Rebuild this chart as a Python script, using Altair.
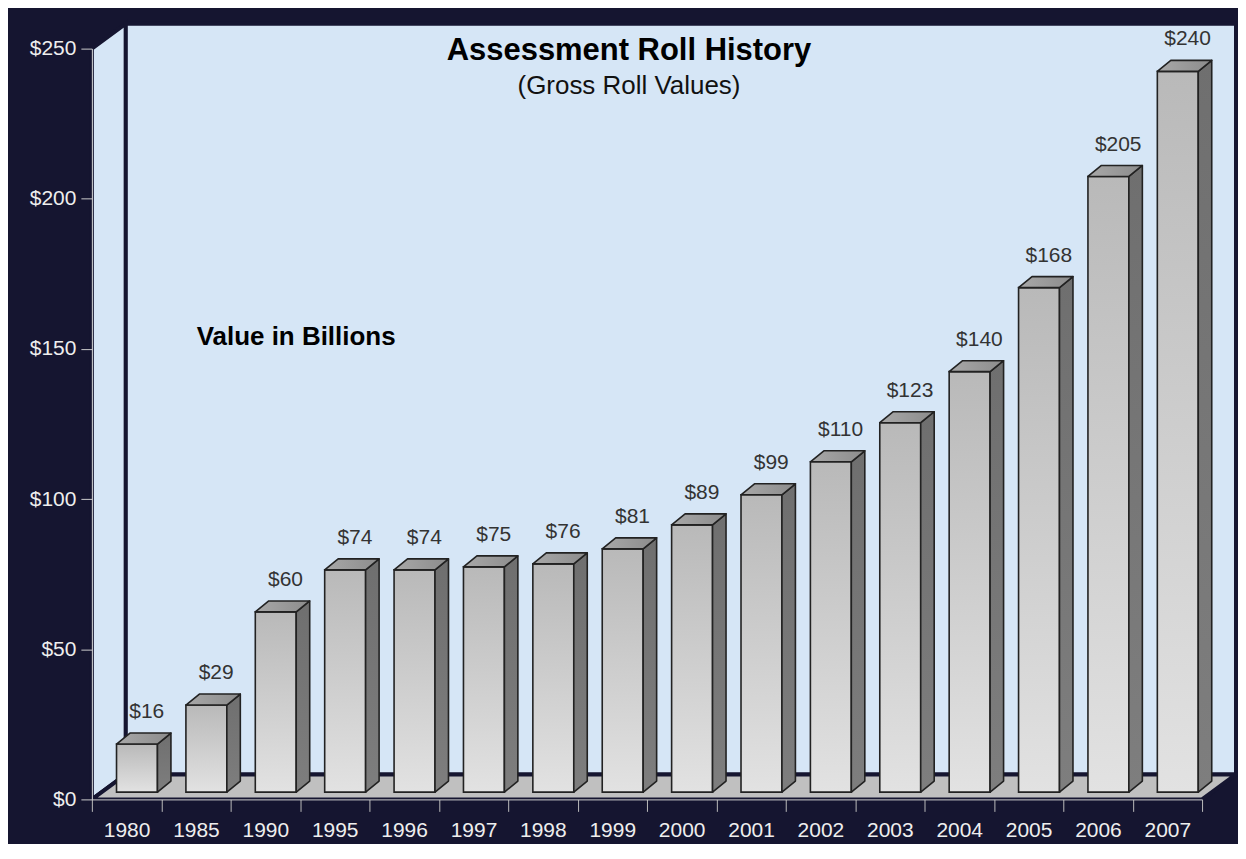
import json
import altair as alt
import pandas as pd

# ---------------- data ----------------
YEARS = ["1980", "1985", "1990", "1995", "1996", "1997", "1998", "1999",
         "2000", "2001", "2002", "2003", "2004", "2005", "2006", "2007"]
VALUES = [16, 29, 60, 74, 74, 75, 76, 81, 89, 99, 110, 123, 140, 168, 205, 240]
Y_TICKS = [0, 50, 100, 150, 200, 250]
TITLE = "Assessment Roll History"
SUBTITLE = "(Gross Roll Values)"
NOTE = "Value in Billions"

# ---------------- style ----------------
NAVY = "#151530"
WALL = "#d6e6f6"
FLOOR = "#c0c0c0"
EDGE = "#222222"
FONT = "Liberation Sans, Arial, Helvetica, sans-serif"

N = len(YEARS)
YMAX = Y_TICKS[-1]
W, H = 1112, 752
PXX = W / N
PXY = H / YMAX


def ux(p):
    return p / PXX


def uy(p):
    return p / PXY


WALL_DX, WALL_DY = ux(34), uy(25)
F_L, F_R = ux(24.7), ux(65.7)
B_DX, B_DY = ux(13.5), uy(11)
BASE = uy(7.3)
LBL_X = ux(55)

XS = alt.Scale(domain=[0, N], nice=False, zero=False)
YS = alt.Scale(domain=[0, YMAX], nice=False, zero=False)

XAX = alt.Axis(
    values=list(range(N + 1)),
    labelExpr=json.dumps(YEARS) + "[datum.value] || ''",
    labelOffset=PXX / 2, labelFont=FONT, labelFontSize=21, labelColor="#eeeeee",
    labelPadding=8, tickSize=12, tickColor="#bbbbbb", domainColor="#cccccc",
    grid=False, labelFlush=False, labelOverlap=False, zindex=1, title=None,
)
YAX = alt.Axis(
    values=Y_TICKS, labelExpr="'$' + datum.value",
    labelFont=FONT, labelFontSize=21, labelColor="#eeeeee", labelPadding=5,
    tickSize=11, tickColor="#cccccc", domainColor="#dddddd",
    grid=False, zindex=1, title=None,
)


def X(f):
    return alt.X(f, scale=XS, axis=XAX, title=None)


def Y(f):
    return alt.Y(f, scale=YS, axis=YAX, title=None)


# ---------------- tables ----------------
idx = list(range(N))
left_wall = pd.DataFrame({"g": ["w", "w"], "x": [0, WALL_DX],
                          "lo": [0, WALL_DY], "hi": [YMAX, YMAX + WALL_DY]})
back_wall = pd.DataFrame({"xa": [WALL_DX], "xb": [N + WALL_DX],
                          "ya": [WALL_DY], "yb": [YMAX + WALL_DY]})
floor = pd.DataFrame({"g": ["f", "f"], "y": [0, WALL_DY],
                      "xa": [0, WALL_DX], "xb": [N, N + WALL_DX]})

front = pd.DataFrame({
    "year": YEARS,
    "xl": [i + F_L for i in idx],
    "xr": [i + F_R for i in idx],
    "yb": [BASE] * N,
    "yt": [BASE + v for v in VALUES],
})

side_rows, top_rows = [], []
for i, (yr, v) in enumerate(zip(YEARS, VALUES)):
    side_rows.append({"year": yr, "x": i + F_R, "lo": BASE, "hi": BASE + v})
    side_rows.append({"year": yr, "x": i + F_R + B_DX, "lo": BASE + B_DY, "hi": BASE + v + B_DY})
    top_rows.append({"year": yr, "y": BASE + v, "xa": i + F_L, "xb": i + F_R})
    top_rows.append({"year": yr, "y": BASE + v + B_DY, "xa": i + F_L + B_DX, "xb": i + F_R + B_DX})
side = pd.DataFrame(side_rows)
top = pd.DataFrame(top_rows)

labels = pd.DataFrame({
    "x": [i + LBL_X for i in idx],
    "y": [BASE + v for v in VALUES],
    "t": ["$" + str(v) for v in VALUES],
})

# ---------------- gradients ----------------
front_grad = alt.LinearGradient(
    gradient="linear", x1=0, y1=0, x2=0, y2=1,
    stops=[alt.GradientStop(color="#b9b9b9", offset=0),
           alt.GradientStop(color="#e2e2e2", offset=1)])
side_grad = alt.LinearGradient(
    gradient="linear", x1=0, y1=0, x2=0, y2=1,
    stops=[alt.GradientStop(color="#6f6f6f", offset=0),
           alt.GradientStop(color="#7e7e7e", offset=1)])
top_grad = alt.LinearGradient(
    gradient="linear", x1=0, y1=0, x2=1, y2=0,
    stops=[alt.GradientStop(color="#a8a8a8", offset=0),
           alt.GradientStop(color="#8c8c8c", offset=1)])

# ---------------- layers ----------------
l_wall = alt.Chart(left_wall).mark_area(
    orient="vertical", fill=WALL, stroke=NAVY, strokeWidth=4
).encode(x=X("x:Q"), y=Y("lo:Q"), y2="hi:Q", detail="g:N")

b_wall = alt.Chart(back_wall).mark_rect(
    fill=WALL, stroke=NAVY, strokeWidth=4
).encode(x=X("xa:Q"), x2="xb:Q", y=Y("ya:Q"), y2="yb:Q")

fl = alt.Chart(floor).mark_area(
    orient="horizontal", fill=FLOOR, stroke=NAVY, strokeWidth=4
).encode(y=Y("y:Q"), x=X("xa:Q"), x2="xb:Q", detail="g:N")

fronts = alt.Chart(front).mark_rect(
    fill=front_grad, stroke=EDGE, strokeWidth=1.6
).encode(x=X("xl:Q"), x2="xr:Q", y=Y("yb:Q"), y2="yt:Q")

sides = alt.Chart(side).mark_area(
    orient="vertical", fill=side_grad, stroke=EDGE, strokeWidth=1.6, strokeJoin="round"
).encode(x=X("x:Q"), y=Y("lo:Q"), y2="hi:Q", detail="year:N")

tops = alt.Chart(top).mark_area(
    orient="horizontal", fill=top_grad, stroke=EDGE, strokeWidth=1.6, strokeJoin="round"
).encode(y=Y("y:Q"), x=X("xa:Q"), x2="xb:Q", detail="year:N")

vals = alt.Chart(labels).mark_text(
    font=FONT, fontSize=21, color="#333333", align="center", baseline="alphabetic", dy=-26
).encode(x=X("x:Q"), y=Y("y:Q"), text="t:N")

title = alt.Chart(pd.DataFrame({"t": [TITLE]})).mark_text(
    font=FONT, fontSize=31, fontWeight="bold", color="#000000", align="center", baseline="alphabetic"
).encode(x=alt.value(538), y=alt.value(11), text="t:N")

subtitle = alt.Chart(pd.DataFrame({"t": [SUBTITLE]})).mark_text(
    font=FONT, fontSize=26, color="#111111", align="center", baseline="alphabetic"
).encode(x=alt.value(538), y=alt.value(45), text="t:N")

note = alt.Chart(pd.DataFrame({"t": [NOTE]})).mark_text(
    font=FONT, fontSize=26, fontWeight="bold", color="#000000", align="left", baseline="alphabetic"
).encode(x=alt.value(105), y=alt.value(297), text="t:N")

chart = alt.layer(
    l_wall, b_wall, fl, fronts, sides, tops, vals, title, subtitle, note
).properties(
    width=W, height=H,
    padding={"left": 84, "top": 40, "right": 36, "bottom": 44},
    autosize=alt.AutoSizeParams(type="none"),
    background=NAVY,
).configure_view(stroke=None)

chart.save("out.html", embed_options={"renderer": "svg", "actions": False})
